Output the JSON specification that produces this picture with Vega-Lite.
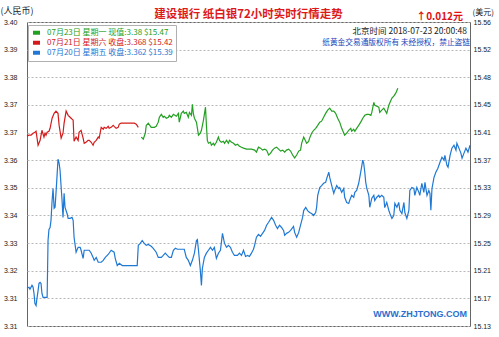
{
"$schema":"https://vega.github.io/schema/vega-lite/v6.json",
"width":443,"height":304,"autosize":"none",
"padding":{"left":27,"top":22,"right":29,"bottom":11},
"background":"white",
"config":{"view":{"stroke":"#666","strokeWidth":1},"font":"Noto Sans CJK SC"},
"data":{"values":[
{"s":"07月21日","h":0,"v":3.3644},{"s":"07月21日","h":0.11,"v":3.3647},{"s":"07月21日","h":0.22,"v":3.3647},{"s":"07月21日","h":0.33,"v":3.3653},{"s":"07月21日","h":0.43,"v":3.3656},{"s":"07月21日","h":0.49,"v":3.3659},{"s":"07月21日","h":0.6,"v":3.3616},{"s":"07月21日","h":0.71,"v":3.3631},{"s":"07月21日","h":0.81,"v":3.3662},{"s":"07月21日","h":0.92,"v":3.3641},{"s":"07月21日","h":0.98,"v":3.3653},{"s":"07月21日","h":1.03,"v":3.3647},{"s":"07月21日","h":1.09,"v":3.3656},{"s":"07月21日","h":1.19,"v":3.3659},{"s":"07月21日","h":1.25,"v":3.3668},{"s":"07月21日","h":1.36,"v":3.3699},{"s":"07月21日","h":1.47,"v":3.3714},{"s":"07月21日","h":1.57,"v":3.3721},{"s":"07月21日","h":1.68,"v":3.3714},{"s":"07月21日","h":1.74,"v":3.3677},{"s":"07月21日","h":1.85,"v":3.3638},{"s":"07月21日","h":1.95,"v":3.3653},{"s":"07月21日","h":2.01,"v":3.3684},{"s":"07月21日","h":2.12,"v":3.3721},{"s":"07月21日","h":2.23,"v":3.3708},{"s":"07月21日","h":2.28,"v":3.3705},{"s":"07月21日","h":2.39,"v":3.3699},{"s":"07月21日","h":2.5,"v":3.3693},{"s":"07月21日","h":2.55,"v":3.3628},{"s":"07月21日","h":2.66,"v":3.3641},{"s":"07月21日","h":2.77,"v":3.3631},{"s":"07月21日","h":2.82,"v":3.3656},{"s":"07月21日","h":2.93,"v":3.3662},{"s":"07月21日","h":3.04,"v":3.3638},{"s":"07月21日","h":3.1,"v":3.3622},{"s":"07月21日","h":3.2,"v":3.3625},{"s":"07月21日","h":3.31,"v":3.3631},{"s":"07月21日","h":3.37,"v":3.3631},{"s":"07月21日","h":3.48,"v":3.3625},{"s":"07月21日","h":3.58,"v":3.3616},{"s":"07月21日","h":3.64,"v":3.3625},{"s":"07月21日","h":3.75,"v":3.3631},{"s":"07月21日","h":3.86,"v":3.3641},{"s":"07月21日","h":3.91,"v":3.3638},{"s":"07月21日","h":4.02,"v":3.3671},{"s":"07月21日","h":4.13,"v":3.3665},{"s":"07月21日","h":4.18,"v":3.3671},{"s":"07月21日","h":4.29,"v":3.3668},{"s":"07月21日","h":4.4,"v":3.3674},{"s":"07月21日","h":4.45,"v":3.3668},{"s":"07月21日","h":4.56,"v":3.3671},{"s":"07月21日","h":4.67,"v":3.3677},{"s":"07月21日","h":4.72,"v":3.3674},{"s":"07月21日","h":4.83,"v":3.3668},{"s":"07月21日","h":4.94,"v":3.3671},{"s":"07月21日","h":5.0,"v":3.3681},{"s":"07月21日","h":5.1,"v":3.3684},{"s":"07月21日","h":5.38,"v":3.3684},{"s":"07月21日","h":5.81,"v":3.3684},{"s":"07月21日","h":5.92,"v":3.3681},{"s":"07月21日","h":6.03,"v":3.3671},
{"s":"07月23日","h":6.19,"v":3.3641},{"s":"07月23日","h":6.3,"v":3.3635},{"s":"07月23日","h":6.41,"v":3.3653},{"s":"07月23日","h":6.46,"v":3.3677},{"s":"07月23日","h":6.57,"v":3.3684},{"s":"07月23日","h":6.73,"v":3.3671},{"s":"07月23日","h":6.9,"v":3.3671},{"s":"07月23日","h":7.0,"v":3.3674},{"s":"07月23日","h":7.11,"v":3.3687},{"s":"07月23日","h":7.17,"v":3.3702},{"s":"07月23日","h":7.28,"v":3.3711},{"s":"07月23日","h":7.38,"v":3.3702},{"s":"07月23日","h":7.44,"v":3.3705},{"s":"07月23日","h":7.55,"v":3.3699},{"s":"07月23日","h":7.66,"v":3.3702},{"s":"07月23日","h":7.71,"v":3.3708},{"s":"07月23日","h":7.82,"v":3.3702},{"s":"07月23日","h":7.93,"v":3.3711},{"s":"07月23日","h":8.09,"v":3.3705},{"s":"07月23日","h":8.2,"v":3.3714},{"s":"07月23日","h":8.25,"v":3.3687},{"s":"07月23日","h":8.36,"v":3.3714},{"s":"07月23日","h":8.47,"v":3.3721},{"s":"07月23日","h":8.52,"v":3.3714},{"s":"07月23日","h":8.63,"v":3.3717},{"s":"07月23日","h":8.74,"v":3.3702},{"s":"07月23日","h":8.8,"v":3.3717},{"s":"07月23日","h":8.91,"v":3.3708},{"s":"07月23日","h":8.96,"v":3.3742},{"s":"07月23日","h":9.01,"v":3.3714},{"s":"07月23日","h":9.07,"v":3.3699},{"s":"07月23日","h":9.18,"v":3.3687},{"s":"07月23日","h":9.29,"v":3.3647},{"s":"07月23日","h":9.39,"v":3.3653},{"s":"07月23日","h":9.45,"v":3.3662},{"s":"07月23日","h":9.56,"v":3.3693},{"s":"07月23日","h":9.67,"v":3.3733},{"s":"07月23日","h":9.72,"v":3.3677},{"s":"07月23日","h":9.77,"v":3.3631},{"s":"07月23日","h":9.83,"v":3.3622},{"s":"07月23日","h":9.94,"v":3.3625},{"s":"07月23日","h":9.99,"v":3.3616},{"s":"07月23日","h":10.1,"v":3.3622},{"s":"07月23日","h":10.15,"v":3.3616},{"s":"07月23日","h":10.26,"v":3.3625},{"s":"07月23日","h":10.37,"v":3.3641},{"s":"07月23日","h":10.43,"v":3.3631},{"s":"07月23日","h":10.53,"v":3.3625},{"s":"07月23日","h":10.64,"v":3.3628},{"s":"07月23日","h":10.7,"v":3.3622},{"s":"07月23日","h":10.81,"v":3.3631},{"s":"07月23日","h":10.91,"v":3.3622},{"s":"07月23日","h":10.97,"v":3.3631},{"s":"07月23日","h":11.08,"v":3.3625},{"s":"07月23日","h":11.19,"v":3.3622},{"s":"07月23日","h":11.29,"v":3.3616},{"s":"07月23日","h":11.4,"v":3.3619},{"s":"07月23日","h":11.51,"v":3.3613},{"s":"07月23日","h":11.62,"v":3.361},{"s":"07月23日","h":11.73,"v":3.3607},{"s":"07月23日","h":11.89,"v":3.3604},{"s":"07月23日","h":12.16,"v":3.3604},{"s":"07月23日","h":12.33,"v":3.3601},{"s":"07月23日","h":12.43,"v":3.3595},{"s":"07月23日","h":12.54,"v":3.361},{"s":"07月23日","h":12.65,"v":3.3607},{"s":"07月23日","h":12.76,"v":3.3601},{"s":"07月23日","h":12.87,"v":3.3604},{"s":"07月23日","h":12.98,"v":3.3601},{"s":"07月23日","h":13.09,"v":3.3586},{"s":"07月23日","h":13.19,"v":3.3591},{"s":"07月23日","h":13.3,"v":3.3601},{"s":"07月23日","h":13.41,"v":3.3607},{"s":"07月23日","h":13.52,"v":3.361},{"s":"07月23日","h":13.63,"v":3.3604},{"s":"07月23日","h":13.74,"v":3.3598},{"s":"07月23日","h":13.85,"v":3.3601},{"s":"07月23日","h":13.96,"v":3.3595},{"s":"07月23日","h":14.06,"v":3.3601},{"s":"07月23日","h":14.17,"v":3.3604},{"s":"07月23日","h":14.28,"v":3.3598},{"s":"07月23日","h":14.39,"v":3.3586},{"s":"07月23日","h":14.5,"v":3.3577},{"s":"07月23日","h":14.61,"v":3.3586},{"s":"07月23日","h":14.72,"v":3.3598},{"s":"07月23日","h":14.82,"v":3.3601},{"s":"07月23日","h":14.88,"v":3.3622},{"s":"07月23日","h":14.99,"v":3.3641},{"s":"07月23日","h":15.04,"v":3.3635},{"s":"07月23日","h":15.15,"v":3.3622},{"s":"07月23日","h":15.26,"v":3.3628},{"s":"07月23日","h":15.31,"v":3.3638},{"s":"07月23日","h":15.42,"v":3.3653},{"s":"07月23日","h":15.53,"v":3.3662},{"s":"07月23日","h":15.64,"v":3.3668},{"s":"07月23日","h":15.75,"v":3.3677},{"s":"07月23日","h":15.86,"v":3.3687},{"s":"07月23日","h":15.96,"v":3.369},{"s":"07月23日","h":16.07,"v":3.3702},{"s":"07月23日","h":16.18,"v":3.3714},{"s":"07月23日","h":16.29,"v":3.3724},{"s":"07月23日","h":16.4,"v":3.373},{"s":"07月23日","h":16.51,"v":3.3721},{"s":"07月23日","h":16.62,"v":3.3721},{"s":"07月23日","h":16.72,"v":3.3714},{"s":"07月23日","h":16.83,"v":3.3699},{"s":"07月23日","h":16.94,"v":3.3687},{"s":"07月23日","h":17.05,"v":3.3668},{"s":"07月23日","h":17.21,"v":3.3647},{"s":"07月23日","h":17.32,"v":3.3653},{"s":"07月23日","h":17.43,"v":3.3662},{"s":"07月23日","h":17.54,"v":3.3668},{"s":"07月23日","h":17.59,"v":3.3659},{"s":"07月23日","h":17.7,"v":3.3665},{"s":"07月23日","h":17.76,"v":3.3659},{"s":"07月23日","h":17.86,"v":3.3668},{"s":"07月23日","h":17.97,"v":3.3677},{"s":"07月23日","h":18.08,"v":3.3687},{"s":"07月23日","h":18.19,"v":3.3699},{"s":"07月23日","h":18.3,"v":3.3708},{"s":"07月23日","h":18.41,"v":3.3711},{"s":"07月23日","h":18.52,"v":3.3711},{"s":"07月23日","h":18.63,"v":3.3708},{"s":"07月23日","h":18.68,"v":3.3717},{"s":"07月23日","h":18.79,"v":3.3748},{"s":"07月23日","h":18.84,"v":3.3739},{"s":"07月23日","h":18.95,"v":3.3736},{"s":"07月23日","h":19.06,"v":3.3733},{"s":"07月23日","h":19.11,"v":3.3717},{"s":"07月23日","h":19.22,"v":3.3724},{"s":"07月23日","h":19.33,"v":3.373},{"s":"07月23日","h":19.49,"v":3.3714},{"s":"07月23日","h":19.6,"v":3.3739},{"s":"07月23日","h":19.77,"v":3.3761},{"s":"07月23日","h":19.87,"v":3.3767},{"s":"07月23日","h":19.98,"v":3.3776},{"s":"07月23日","h":20.09,"v":3.3791},
{"s":"07月20日","h":0,"v":3.3176},{"s":"07月20日","h":0.11,"v":3.3179},{"s":"07月20日","h":0.16,"v":3.3173},{"s":"07月20日","h":0.27,"v":3.3185},{"s":"07月20日","h":0.33,"v":3.3179},{"s":"07月20日","h":0.38,"v":3.316},{"s":"07月20日","h":0.43,"v":3.3129},{"s":"07月20日","h":0.49,"v":3.3123},{"s":"07月20日","h":0.54,"v":3.3145},{"s":"07月20日","h":0.6,"v":3.3169},{"s":"07月20日","h":0.65,"v":3.3191},{"s":"07月20日","h":0.71,"v":3.3194},{"s":"07月20日","h":0.76,"v":3.3191},{"s":"07月20日","h":0.81,"v":3.316},{"s":"07月20日","h":0.87,"v":3.3148},{"s":"07月20日","h":0.98,"v":3.3148},{"s":"07月20日","h":1.09,"v":3.3148},{"s":"07月20日","h":1.14,"v":3.3323},{"s":"07月20日","h":1.19,"v":3.3357},{"s":"07月20日","h":1.25,"v":3.3363},{"s":"07月20日","h":1.3,"v":3.3385},{"s":"07月20日","h":1.36,"v":3.3446},{"s":"07月20日","h":1.41,"v":3.3483},{"s":"07月20日","h":1.47,"v":3.3422},{"s":"07月20日","h":1.52,"v":3.3425},{"s":"07月20日","h":1.57,"v":3.3468},{"s":"07月20日","h":1.63,"v":3.3524},{"s":"07月20日","h":1.68,"v":3.3573},{"s":"07月20日","h":1.74,"v":3.3561},{"s":"07月20日","h":1.79,"v":3.3539},{"s":"07月20日","h":1.85,"v":3.3487},{"s":"07月20日","h":1.9,"v":3.3446},{"s":"07月20日","h":1.95,"v":3.3394},{"s":"07月20日","h":2.01,"v":3.3468},{"s":"07月20日","h":2.06,"v":3.3425},{"s":"07月20日","h":2.17,"v":3.3406},{"s":"07月20日","h":2.23,"v":3.3391},{"s":"07月20日","h":2.33,"v":3.3391},{"s":"07月20日","h":2.44,"v":3.3394},{"s":"07月20日","h":2.5,"v":3.3385},{"s":"07月20日","h":2.55,"v":3.3333},{"s":"07月20日","h":2.66,"v":3.3287},{"s":"07月20日","h":2.77,"v":3.3302},{"s":"07月20日","h":2.88,"v":3.3302},{"s":"07月20日","h":2.93,"v":3.3293},{"s":"07月20日","h":3.04,"v":3.3268},{"s":"07月20日","h":3.1,"v":3.3293},{"s":"07月20日","h":3.2,"v":3.3293},{"s":"07月20日","h":3.37,"v":3.3293},{"s":"07月20日","h":3.48,"v":3.3284},{"s":"07月20日","h":3.58,"v":3.3271},{"s":"07月20日","h":3.64,"v":3.3262},{"s":"07月20日","h":3.75,"v":3.3271},{"s":"07月20日","h":3.86,"v":3.3256},{"s":"07月20日","h":4.02,"v":3.3256},{"s":"07月20日","h":4.13,"v":3.3262},{"s":"07月20日","h":4.24,"v":3.3271},{"s":"07月20日","h":4.4,"v":3.328},{"s":"07月20日","h":4.56,"v":3.3293},{"s":"07月20日","h":4.72,"v":3.3287},{"s":"07月20日","h":4.78,"v":3.3268},{"s":"07月20日","h":4.89,"v":3.3246},{"s":"07月20日","h":5.0,"v":3.3253},{"s":"07月20日","h":5.16,"v":3.3246},{"s":"07月20日","h":5.65,"v":3.3246},{"s":"07月20日","h":5.97,"v":3.3246},{"s":"07月20日","h":6.03,"v":3.3308},{"s":"07月20日","h":6.14,"v":3.3314},{"s":"07月20日","h":6.24,"v":3.3323},{"s":"07月20日","h":6.35,"v":3.3314},{"s":"07月20日","h":6.46,"v":3.3308},{"s":"07月20日","h":6.57,"v":3.3311},{"s":"07月20日","h":6.73,"v":3.3305},{"s":"07月20日","h":6.84,"v":3.3299},{"s":"07月20日","h":7.0,"v":3.3287},{"s":"07月20日","h":7.11,"v":3.3271},{"s":"07月20日","h":7.28,"v":3.3271},{"s":"07月20日","h":7.38,"v":3.3277},{"s":"07月20日","h":7.49,"v":3.3284},{"s":"07月20日","h":7.6,"v":3.3277},{"s":"07月20日","h":7.71,"v":3.3271},{"s":"07月20日","h":7.82,"v":3.3271},{"s":"07月20日","h":7.93,"v":3.3293},{"s":"07月20日","h":8.04,"v":3.3299},{"s":"07月20日","h":8.15,"v":3.3296},{"s":"07月20日","h":8.25,"v":3.3296},{"s":"07月20日","h":8.36,"v":3.3296},{"s":"07月20日","h":8.52,"v":3.3296},{"s":"07月20日","h":8.63,"v":3.3271},{"s":"07月20日","h":8.74,"v":3.3262},{"s":"07月20日","h":8.85,"v":3.3246},{"s":"07月20日","h":8.96,"v":3.3262},{"s":"07月20日","h":9.07,"v":3.3284},{"s":"07月20日","h":9.18,"v":3.3323},{"s":"07月20日","h":9.23,"v":3.3326},{"s":"07月20日","h":9.29,"v":3.3293},{"s":"07月20日","h":9.39,"v":3.3231},{"s":"07月20日","h":9.45,"v":3.3185},{"s":"07月20日","h":9.5,"v":3.3237},{"s":"07月20日","h":9.61,"v":3.3271},{"s":"07月20日","h":9.72,"v":3.3284},{"s":"07月20日","h":9.83,"v":3.3293},{"s":"07月20日","h":9.94,"v":3.3302},{"s":"07月20日","h":10.05,"v":3.3293},{"s":"07月20日","h":10.15,"v":3.3302},{"s":"07月20日","h":10.26,"v":3.3268},{"s":"07月20日","h":10.37,"v":3.3284},{"s":"07月20日","h":10.48,"v":3.3293},{"s":"07月20日","h":10.59,"v":3.3345},{"s":"07月20日","h":10.7,"v":3.3314},{"s":"07月20日","h":10.81,"v":3.3302},{"s":"07月20日","h":10.91,"v":3.3308},{"s":"07月20日","h":11.02,"v":3.3302},{"s":"07月20日","h":11.13,"v":3.3287},{"s":"07月20日","h":11.24,"v":3.3277},{"s":"07月20日","h":11.4,"v":3.3277},{"s":"07月20日","h":11.51,"v":3.3284},{"s":"07月20日","h":11.62,"v":3.3277},{"s":"07月20日","h":11.73,"v":3.3293},{"s":"07月20日","h":11.84,"v":3.3274},{"s":"07月20日","h":11.95,"v":3.3277},{"s":"07月20日","h":12.05,"v":3.3274},{"s":"07月20日","h":12.16,"v":3.3284},{"s":"07月20日","h":12.27,"v":3.3296},{"s":"07月20日","h":12.33,"v":3.3308},{"s":"07月20日","h":12.43,"v":3.3333},{"s":"07月20日","h":12.54,"v":3.3342},{"s":"07月20日","h":12.65,"v":3.3336},{"s":"07月20日","h":12.76,"v":3.3345},{"s":"07月20日","h":12.87,"v":3.3354},{"s":"07月20日","h":12.98,"v":3.337},{"s":"07月20日","h":13.09,"v":3.3379},{"s":"07月20日","h":13.25,"v":3.3394},{"s":"07月20日","h":13.36,"v":3.3385},{"s":"07月20日","h":13.47,"v":3.337},{"s":"07月20日","h":13.57,"v":3.336},{"s":"07月20日","h":13.68,"v":3.337},{"s":"07月20日","h":13.79,"v":3.3363},{"s":"07月20日","h":13.9,"v":3.3354},{"s":"07月20日","h":13.96,"v":3.3339},{"s":"07月20日","h":14.06,"v":3.3345},{"s":"07月20日","h":14.17,"v":3.3348},{"s":"07月20日","h":14.28,"v":3.3354},{"s":"07月20日","h":14.44,"v":3.3366},{"s":"07月20日","h":14.5,"v":3.3348},{"s":"07月20日","h":14.61,"v":3.3333},{"s":"07月20日","h":14.72,"v":3.3348},{"s":"07月20日","h":14.82,"v":3.337},{"s":"07月20日","h":14.93,"v":3.3394},{"s":"07月20日","h":14.99,"v":3.3415},{"s":"07月20日","h":15.1,"v":3.3425},{"s":"07月20日","h":15.2,"v":3.3415},{"s":"07月20日","h":15.31,"v":3.3409},{"s":"07月20日","h":15.42,"v":3.3406},{"s":"07月20日","h":15.53,"v":3.34},{"s":"07月20日","h":15.64,"v":3.3409},{"s":"07月20日","h":15.69,"v":3.3425},{"s":"07月20日","h":15.75,"v":3.3462},{"s":"07月20日","h":15.86,"v":3.3486},{"s":"07月20日","h":15.96,"v":3.3492},{"s":"07月20日","h":16.07,"v":3.3499},{"s":"07月20日","h":16.18,"v":3.3502},{"s":"07月20日","h":16.24,"v":3.3514},{"s":"07月20日","h":16.35,"v":3.3533},{"s":"07月20日","h":16.4,"v":3.3517},{"s":"07月20日","h":16.51,"v":3.3492},{"s":"07月20日","h":16.62,"v":3.3468},{"s":"07月20日","h":16.67,"v":3.3477},{"s":"07月20日","h":16.78,"v":3.3492},{"s":"07月20日","h":16.89,"v":3.3483},{"s":"07月20日","h":16.94,"v":3.3486},{"s":"07月20日","h":17.05,"v":3.3471},{"s":"07月20日","h":17.16,"v":3.3483},{"s":"07月20日","h":17.21,"v":3.3456},{"s":"07月20日","h":17.32,"v":3.344},{"s":"07月20日","h":17.43,"v":3.3437},{"s":"07月20日","h":17.48,"v":3.3446},{"s":"07月20日","h":17.59,"v":3.3462},{"s":"07月20日","h":17.7,"v":3.3456},{"s":"07月20日","h":17.76,"v":3.3471},{"s":"07月20日","h":17.86,"v":3.3477},{"s":"07月20日","h":17.97,"v":3.3499},{"s":"07月20日","h":18.08,"v":3.3533},{"s":"07月20日","h":18.19,"v":3.357},{"s":"07月20日","h":18.24,"v":3.3561},{"s":"07月20日","h":18.3,"v":3.3533},{"s":"07月20日","h":18.35,"v":3.3502},{"s":"07月20日","h":18.41,"v":3.3483},{"s":"07月20日","h":18.52,"v":3.3462},{"s":"07月20日","h":18.57,"v":3.3425},{"s":"07月20日","h":18.68,"v":3.3453},{"s":"07月20日","h":18.79,"v":3.3462},{"s":"07月20日","h":18.84,"v":3.3446},{"s":"07月20日","h":18.95,"v":3.3456},{"s":"07月20日","h":19.06,"v":3.3462},{"s":"07月20日","h":19.11,"v":3.3456},{"s":"07月20日","h":19.22,"v":3.3462},{"s":"07月20日","h":19.33,"v":3.3456},{"s":"07月20日","h":19.38,"v":3.3424},{"s":"07月20日","h":19.49,"v":3.344},{"s":"07月20日","h":19.6,"v":3.3416},{"s":"07月20日","h":19.66,"v":3.3406},{"s":"07月20日","h":19.77,"v":3.3391},{"s":"07月20日","h":19.87,"v":3.34},{"s":"07月20日","h":19.93,"v":3.3437},{"s":"07月20日","h":20.04,"v":3.3425},{"s":"07月20日","h":20.14,"v":3.344},{"s":"07月20日","h":20.2,"v":3.3416},{"s":"07月20日","h":20.31,"v":3.3406},{"s":"07月20日","h":20.42,"v":3.344},{"s":"07月20日","h":20.47,"v":3.3409},{"s":"07月20日","h":20.58,"v":3.3391},{"s":"07月20日","h":20.69,"v":3.3416},{"s":"07月20日","h":20.74,"v":3.3477},{"s":"07月20日","h":20.85,"v":3.3486},{"s":"07月20日","h":20.96,"v":3.3483},{"s":"07月20日","h":21.01,"v":3.3462},{"s":"07月20日","h":21.12,"v":3.3486},{"s":"07月20日","h":21.23,"v":3.3471},{"s":"07月20日","h":21.28,"v":3.3462},{"s":"07月20日","h":21.39,"v":3.3499},{"s":"07月20日","h":21.5,"v":3.3471},{"s":"07月20日","h":21.56,"v":3.3502},{"s":"07月20日","h":21.67,"v":3.3462},{"s":"07月20日","h":21.77,"v":3.3477},{"s":"07月20日","h":21.83,"v":3.3468},{"s":"07月20日","h":21.88,"v":3.3416},{"s":"07月20日","h":21.94,"v":3.3483},{"s":"07月20日","h":22.05,"v":3.3517},{"s":"07月20日","h":22.15,"v":3.3533},{"s":"07月20日","h":22.26,"v":3.3545},{"s":"07月20日","h":22.37,"v":3.3563},{"s":"07月20日","h":22.48,"v":3.3579},{"s":"07月20日","h":22.59,"v":3.357},{"s":"07月20日","h":22.64,"v":3.3585},{"s":"07月20日","h":22.75,"v":3.3554},{"s":"07月20日","h":22.81,"v":3.3548},{"s":"07月20日","h":22.92,"v":3.3585},{"s":"07月20日","h":23.02,"v":3.3607},{"s":"07月20日","h":23.13,"v":3.3616},{"s":"07月20日","h":23.24,"v":3.3601},{"s":"07月20日","h":23.29,"v":3.3622},{"s":"07月20日","h":23.4,"v":3.3607},{"s":"07月20日","h":23.51,"v":3.3591},{"s":"07月20日","h":23.57,"v":3.3576},{"s":"07月20日","h":23.67,"v":3.3591},{"s":"07月20日","h":23.78,"v":3.3607},{"s":"07月20日","h":23.89,"v":3.3595},{"s":"07月20日","h":24,"v":3.3616}
]},
"layer":[
{"mark":{"type":"line","strokeWidth":1.2},
 "encoding":{
  "x":{"field":"h","type":"quantitative","scale":{"domain":[0,24],"nice":false,"zero":false},
   "axis":{"values":[0,2,4,6,8,10,12,14,16,18,20,22,24],"labelExpr":"datum.value == 24 ? '0' : datum.label","title":null,"ticks":false,"tickSize":0,"domain":false,"grid":true,"gridColor":"#d0d0d0","gridWidth":1,"labelFontSize":7,"labelFont":"Liberation Sans","labelColor":"#222","labelPadding":3,"labelFlush":false,"labelOverlap":false}},
  "y":{"field":"v","type":"quantitative","scale":{"domain":[3.306,3.3995],"nice":false,"zero":false},
   "axis":{"values":[3.306,3.3145,3.323,3.3315,3.34,3.3485,3.357,3.3655,3.374,3.3825,3.391,3.3995],"format":".2f","title":"(人民币)","titleAngle":0,"titleAlign":"left","titleBaseline":"middle","titleX":-27,"titleY":-12,"titleFontSize":9,"titleFontWeight":"normal","titleColor":"#222","titleFont":"Noto Sans CJK SC","ticks":false,"tickSize":0,"labelPadding":10,"labelFontSize":7,"labelFont":"Liberation Sans","labelColor":"#222","grid":true,"gridDash":[2,2],"gridColor":"#b8b8b8","domain":false,"labelOverlap":false,"labelFlush":false}},
  "color":{"field":"s","type":"nominal","scale":{"domain":["07月23日","07月21日","07月20日"],"range":["#22a022","#d41a1a","#1f78d4"]},
   "legend":{"orient":"none","legendX":1,"legendY":3,"title":null,"direction":"vertical","symbolType":"stroke","symbolSize":49,"symbolStrokeWidth":4,"labelFontSize":8,"labelFont":"Noto Sans CJK SC","labelLimit":300,"rowPadding":0,"clipHeight":9.5,"padding":3,"strokeColor":"#b0b0b0","fillColor":"white","labelOffset":5,
    "labelExpr":"datum.label == '07月23日' ? '07月23日 星期一 现值:3.38 $15.47' : datum.label == '07月21日' ? '07月21日 星期六 收盘:3.368 $15.42' : '07月20日 星期五 收盘:3.362 $15.39'",
    "encode":{"labels":{"update":{"fill":{"scale":"color","field":"value"}}}}}}
 }},
{"mark":{"type":"line","opacity":0,"strokeWidth":0},
 "encoding":{
  "x":{"field":"h","type":"quantitative"},
  "y":{"field":"v","type":"quantitative",
   "axis":{"orient":"right","values":[3.306,3.3145,3.323,3.3315,3.34,3.3485,3.357,3.3655,3.374,3.3825,3.391,3.3995],"labelExpr":"['15.13','15.17','15.21','15.25','15.29','15.33','15.37','15.41','15.45','15.48','15.52','15.56'][round((datum.value-3.306)/0.0085)]","title":"(美元)","titleAngle":0,"titleAlign":"left","titleBaseline":"middle","titleX":2,"titleY":-10,"titleFontSize":8,"titleFontWeight":"normal","titleColor":"#222","titleFont":"Noto Sans CJK SC","ticks":false,"tickSize":0,"labelPadding":3,"labelFontSize":7,"labelFont":"Liberation Sans","labelColor":"#222","grid":false,"domain":false,"labelOverlap":false,"labelFlush":false}}
 }},
{"data":{"values":[{}]},"mark":{"type":"text","text":"建设银行  纸白银72小时实时行情走势","align":"center","baseline":"middle","fontSize":11.5,"fontWeight":"bold","color":"#dd1a1a","font":"Noto Sans CJK SC"},
 "encoding":{"x":{"datum":12,"type":"quantitative","axis":null},"y":{"datum":3.4017,"type":"quantitative","axis":null}}},
{"data":{"values":[{}]},"mark":{"type":"text","text":"↑0.012元","align":"right","baseline":"middle","fontSize":10,"fontWeight":"bold","color":"#e01010","font":"Noto Sans CJK SC"},
 "encoding":{"x":{"datum":23.62,"type":"quantitative","axis":null},"y":{"datum":3.4011,"type":"quantitative","axis":null}}},
{"data":{"values":[{}]},"mark":{"type":"text","text":"北京时间  2018-07-23  20:00:48","align":"right","baseline":"middle","fontSize":8.5,"color":"#222","font":"Noto Sans CJK SC"},
 "encoding":{"x":{"datum":23.84,"type":"quantitative","axis":null},"y":{"datum":3.3966,"type":"quantitative","axis":null}}},
{"data":{"values":[{}]},"mark":{"type":"text","text":"纸黄金交易通版权所有  未经授权，禁止盗链","align":"right","baseline":"middle","fontSize":7.7,"color":"#2244bb","font":"Noto Sans CJK SC"},
 "encoding":{"x":{"datum":24,"type":"quantitative","axis":null},"y":{"datum":3.3929,"type":"quantitative","axis":null}}},
{"data":{"values":[{}]},"mark":{"type":"text","text":"WWW.ZHJTONG.COM","align":"right","baseline":"middle","fontSize":9,"fontWeight":"bold","color":"#2a6fd0","font":"Liberation Sans"},
 "encoding":{"x":{"datum":23.84,"type":"quantitative","axis":null},"y":{"datum":3.3097,"type":"quantitative","axis":null}}}
],
"resolve":{"axis":{"y":"independent"}}
}
